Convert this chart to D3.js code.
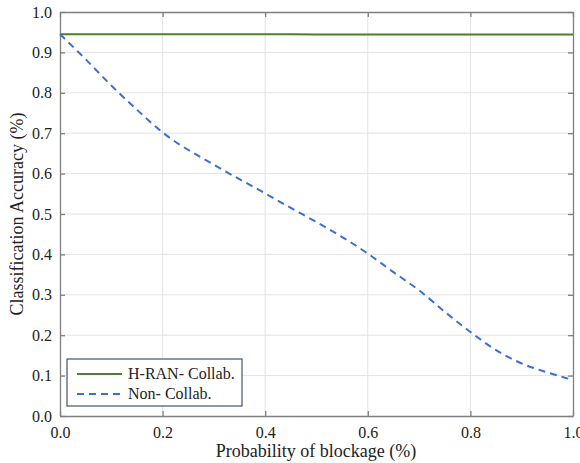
<!DOCTYPE html>
<html>
<head>
<meta charset="utf-8">
<script src="https://cdn.jsdelivr.net/npm/d3@7"></script>
<style>
  body { margin: 0; background: #fff; }
</style>
</head>
<body>
<div id="chart"></div>
<script>
// blockage probability samples
const blockage = [0, 0.05, 0.1, 0.15, 0.2, 0.3, 0.4, 0.45, 0.5, 0.55, 0.6, 0.65, 0.7, 0.75, 0.8, 0.85, 0.9, 0.95, 1.0];
const collab = [0.945, 0.945, 0.945, 0.945, 0.945, 0.945, 0.945, 0.945, 0.944, 0.944, 0.944, 0.944, 0.944, 0.944, 0.944, 0.944, 0.944, 0.944, 0.944];
const nonCollab = [0.945, 0.883, 0.818, 0.758, 0.702, 0.622, 0.551, 0.515, 0.48, 0.443, 0.402, 0.356, 0.311, 0.258, 0.208, 0.163, 0.13, 0.108, 0.089];
const xTicks = [0, 0.2, 0.4, 0.6, 0.8, 1.0];
const yTicks = [0, 0.1, 0.2, 0.3, 0.4, 0.5, 0.6, 0.7, 0.8, 0.9, 1.0];
const seriesNames = ['H-RAN- Collab.', 'Non- Collab.'];

const width = 580;
const height = 463;
const margin = {top: 12, right: 7, bottom: 47, left: 60};
const serif = '"Liberation Serif"';

const svg = d3.select('#chart')
    .append('svg')
    .attr('width', width)
    .attr('height', height)
    .attr('font-family', serif);

const x = d3.scaleLinear().domain([0, 1]).range([margin.left, width - margin.right]);
const y = d3.scaleLinear().domain([0, 1]).range([height - margin.bottom, margin.top]);

const axisColor = '#7f7f7f';

// grid
svg.append('g')
    .selectAll('line')
    .data(xTicks.slice(1, -1))
    .join('line')
    .attr('x1', (d) => x(d)).attr('x2', (d) => x(d))
    .attr('y1', y(0)).attr('y2', y(1))
    .style('stroke', '#e3e3e3');

svg.append('g')
    .selectAll('line')
    .data(yTicks.slice(1, -1))
    .join('line')
    .attr('x1', x(0)).attr('x2', x(1))
    .attr('y1', (d) => y(d)).attr('y2', (d) => y(d))
    .style('stroke', '#e3e3e3');

// axes
const fmt = d3.format('.1f');

const xAxis = svg.append('g')
    .attr('transform', `translate(0,${y(0)})`)
    .call(d3.axisBottom(x).tickValues(xTicks).tickFormat(fmt).tickSizeInner(-5).tickSizeOuter(0).tickPadding(11));

const yAxis = svg.append('g')
    .attr('transform', `translate(${x(0)},0)`)
    .call(d3.axisLeft(y).tickValues(yTicks).tickFormat(fmt).tickSizeInner(-5).tickSizeOuter(0).tickPadding(8));

const xTop = svg.append('g')
    .attr('transform', `translate(0,${y(1)})`)
    .call(d3.axisTop(x).tickValues(xTicks).tickFormat('').tickSizeInner(-5).tickSizeOuter(0));

const yRight = svg.append('g')
    .attr('transform', `translate(${x(1)},0)`)
    .call(d3.axisRight(y).tickValues(yTicks).tickFormat('').tickSizeInner(-5).tickSizeOuter(0));

[xAxis, yAxis, xTop, yRight].forEach((g) => {
    g.attr('font-family', serif).attr('font-size', 16);
    g.selectAll('path, line').style('stroke', axisColor).style('stroke-width', 1.3);
    g.selectAll('text').attr('font-family', serif).style('fill', '#222');
});

// lines
const line = d3.line()
    .x((d, i) => x(blockage[i]))
    .y((d) => y(d));

svg.append('path')
    .datum(collab)
    .attr('d', line.curve(d3.curveLinear))
    .style('fill', 'none')
    .style('stroke', '#4f7f2a')
    .style('stroke-width', 2);

svg.append('path')
    .datum(nonCollab)
    .attr('d', line.curve(d3.curveMonotoneX))
    .style('fill', 'none')
    .style('stroke', '#3a6fd6')
    .style('stroke-width', 2)
    .style('stroke-dasharray', '7,5');

// axis labels
svg.append('text')
    .attr('x', 316)
    .attr('y', 457)
    .attr('font-family', serif)
    .style('text-anchor', 'middle')
    .style('font-size', '18px')
    .style('fill', '#222')
    .text('Probability of blockage (%)');

svg.append('text')
    .attr('transform', `translate(23,${(y(0) + y(1)) / 2}) rotate(-90)`)
    .attr('font-family', serif)
    .style('text-anchor', 'middle')
    .style('font-size', '18px')
    .style('fill', '#222')
    .text('Classification Accuracy (%)');

// legend
const legend = svg.append('g').attr('transform', 'translate(67,359)');
legend.append('rect')
    .attr('width', 175)
    .attr('height', 47)
    .style('fill', '#fff')
    .style('stroke', '#1f2d5a')
    .style('stroke-width', 1);

const legendStyles = [
    {color: '#4f7f2a', dash: null},
    {color: '#3a6fd6', dash: '7,5'},
];

seriesNames.forEach((name, i) => {
    const ly = 15 + i * 20;
    legend.append('line')
        .attr('x1', 10).attr('x2', 55)
        .attr('y1', ly).attr('y2', ly)
        .style('stroke', legendStyles[i].color)
        .style('stroke-width', 2)
        .style('stroke-dasharray', legendStyles[i].dash);
    legend.append('text')
        .attr('x', 61)
        .attr('y', ly + 5)
        .attr('font-family', serif)
        .style('font-size', '16px')
        .style('fill', '#222')
        .text(name);
});
</script>
</body>
</html>
